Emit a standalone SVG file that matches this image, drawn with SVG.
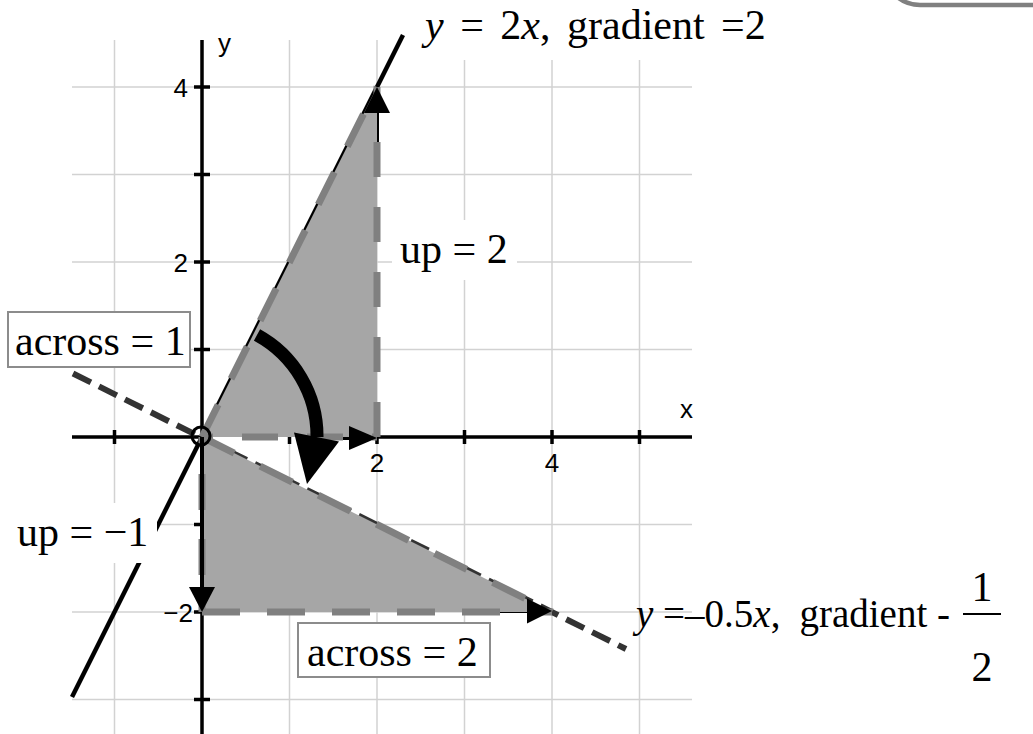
<svg xmlns="http://www.w3.org/2000/svg" width="1033" height="734" viewBox="0 0 1033 734">
<style>
.grid{stroke:#d2d2d2;stroke-width:1.5;fill:none}
.axis{stroke:#000;stroke-width:3.5;fill:none}
.tick{stroke:#000;stroke-width:3.5}
.tl{font-family:"Liberation Sans",Arial,sans-serif;font-size:26px;fill:#000}
.lbl{font-family:"Liberation Serif","Times New Roman",serif;font-size:42px;fill:#000}
.sm{font-size:39px}
.edge{stroke:#808080;stroke-width:7;fill:none;stroke-dasharray:36 29}
.fill{fill:#a6a6a6;stroke:none}
.vec{stroke:#000;stroke-width:4;fill:none}
.head{fill:#000}
.bg{fill:#fff}
.box{fill:#fff;stroke:#8c8c8c;stroke-width:2}
</style>
<rect x="0" y="0" width="1033" height="734" fill="#fff"/>
<g id="frame">
<rect x="884" y="-80" width="200" height="85" rx="36" ry="36" fill="#fff" stroke="#808080" stroke-width="4.5"/>
</g>
<g id="grid">
<path class="grid" d="M114.5 40V734M289.5 40V734M377 40V734M464.5 40V734M552 40V734M639.5 40V734M72 87H692M72 174.5H692M72 262H692M72 349.5H692M72 524.5H692M72 612H692M72 699.5H692"/>
</g>
<g id="axes">
<path class="axis" d="M72 437H202M377 437H692M202 40V734"/>
<path class="tick" d="M114.5 430V444M464.5 430V444M552 430V444M639.5 430V444M289.5 437V444M377 437V444M194 87H210M194 174.5H210M194 262H210M194 349.5H210M194 524.5H210M194 612H210M194 699.5H210"/>
<text class="tl" x="188" y="97" text-anchor="end">4</text>
<text class="tl" x="188" y="272" text-anchor="end">2</text>
<text class="tl" x="193" y="622" text-anchor="end">−2</text>
<text class="tl" x="377" y="472" text-anchor="middle">2</text>
<text class="tl" x="552" y="472" text-anchor="middle">4</text>
<text class="tl" x="680" y="418">x</text>
<text class="tl" x="218" y="52">y</text>
</g>
<g id="line-y2x">
<line x1="72" y1="697" x2="403" y2="35" stroke="#000" stroke-width="4.5"/>
</g>
<g id="line-yhalf">
<line x1="73" y1="373.5" x2="626" y2="649" stroke="#333" stroke-width="6" stroke-dasharray="20 9"/>
</g>
<g id="connectors">
<line class="vec" x1="377" y1="150" x2="377" y2="100"/>
<line class="vec" x1="336" y1="438" x2="352" y2="438"/>
<line class="vec" x1="497" y1="611" x2="530" y2="611"/>
</g>
<g id="triangle-upper">
<polygon class="fill" points="202,437 377,437 377,87"/>
<line class="edge" x1="202" y1="437" x2="377" y2="437" stroke-dashoffset="25"/>
<line class="edge" x1="377" y1="437" x2="377" y2="87" style="stroke-dasharray:35 30"/>
<line class="edge" x1="202" y1="437" x2="377" y2="87"/>
</g>
<g id="triangle-lower">
<polygon class="fill" points="202,437 202,612 552,612"/>
<line class="edge" x1="202" y1="612" x2="552" y2="612" style="stroke-dasharray:38 27"/>
<line class="edge" x1="202" y1="437" x2="202" y2="612" stroke-dashoffset="28"/>
<line class="edge" x1="202" y1="437" x2="552" y2="612"/>
</g>
<g id="vectors">
<line class="vec" x1="202" y1="437" x2="202" y2="592"/>
<polygon class="head" points="377,87 364,113 390,113"/>
<polygon class="head" points="377,438 349,426 349,450"/>
<polygon class="head" points="202,612 189,587 215,587"/>
<polygon class="head" points="552,611 527,598.5 527,623.5"/>
</g>
<g id="rotation-arrow">
<path d="M257 335 A115 115 0 0 1 317 437" fill="none" stroke="#000" stroke-width="13"/>
<polygon class="head" points="294,432.4 339,441.6 307,484"/>
</g>
<g id="origin">
<circle cx="201" cy="436" r="9" fill="none" stroke="#000" stroke-width="3"/>
</g>
<g id="label-y2x">
<rect class="bg" x="418" y="0" width="352" height="60"/>
<text class="lbl" x="425" y="39" word-spacing="6"><tspan font-style="italic">y</tspan> = 2<tspan font-style="italic">x</tspan>, gradient =2</text>
</g>
<g id="label-up2">
<rect class="bg" x="392" y="220" width="125" height="60"/>
<text class="lbl" x="400" y="263">up = 2</text>
</g>
<g id="label-upm1">
<rect class="bg" x="8" y="503" width="149" height="60"/>
<text class="lbl" x="17" y="546">up = −1</text>
</g>
<g id="label-across1">
<rect class="box" x="8" y="312" width="182" height="55"/>
<text class="lbl" x="15" y="355">across = 1</text>
</g>
<g id="label-across2">
<rect class="box" x="298" y="623" width="192" height="54"/>
<text class="lbl" x="307" y="666">across = 2</text>
</g>
<g id="label-yhalf">
<text class="lbl sm" x="636" y="627"><tspan font-style="italic">y</tspan> =–0.5<tspan font-style="italic">x</tspan>,</text>
<text class="lbl sm" x="950" y="627" text-anchor="end">gradient -</text>
<text class="lbl" x="982" y="601" text-anchor="middle">1</text>
<line x1="963" y1="614" x2="1001" y2="614" stroke="#000" stroke-width="2"/>
<text class="lbl" x="982" y="681" text-anchor="middle">2</text>
</g>
</svg>
